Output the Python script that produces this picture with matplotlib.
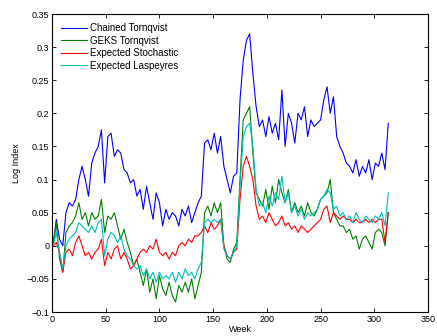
import matplotlib
matplotlib.use("Agg")
import matplotlib.pyplot as plt
from matplotlib.ticker import FuncFormatter

plt.rcParams['font.family'] = ['Liberation Sans', 'DejaVu Sans']

weeks = list(range(1, 314, 3))

chained_tornqvist = [
    0.0, 0.04, 0.01, 0.0, 0.05, 0.065, 0.06, 0.07, 0.1, 0.12,
    0.1, 0.075, 0.125, 0.14, 0.15, 0.175, 0.095, 0.165, 0.17, 0.135,
    0.145, 0.14, 0.115, 0.11, 0.095, 0.1, 0.075, 0.085, 0.055, 0.09,
    0.065, 0.04, 0.08, 0.065, 0.03, 0.055, 0.04, 0.05, 0.045, 0.03,
    0.055, 0.045, 0.06, 0.035, 0.05, 0.065, 0.075, 0.155, 0.16, 0.145,
    0.17, 0.14, 0.165, 0.12, 0.1, 0.08, 0.105, 0.11, 0.22, 0.28,
    0.31, 0.32, 0.26, 0.21, 0.18, 0.19, 0.165, 0.195, 0.17, 0.185,
    0.16, 0.235, 0.15, 0.2, 0.185, 0.155, 0.2, 0.19, 0.21, 0.165,
    0.19, 0.18, 0.185, 0.19, 0.22, 0.24, 0.2, 0.225, 0.165, 0.15,
    0.14, 0.125, 0.12, 0.11, 0.13, 0.105, 0.12, 0.11, 0.13, 0.1,
    0.125, 0.12, 0.14, 0.115, 0.185,
]

geks_tornqvist = [
    0.0, 0.035, -0.02, -0.04, 0.02, 0.03, 0.035, 0.045, 0.065, 0.04,
    0.05, 0.03, 0.05, 0.04, 0.045, 0.07, 0.02, 0.045, 0.04, 0.05,
    0.03, 0.01, 0.025, 0.005, -0.01, -0.03, -0.02, -0.04, -0.06, -0.035,
    -0.07, -0.05, -0.08, -0.045, -0.065, -0.075, -0.055, -0.075, -0.085, -0.06,
    -0.07, -0.055, -0.07, -0.05, -0.08, -0.06, -0.04, 0.05, 0.06, 0.045,
    0.065, 0.05, 0.065, 0.0, -0.02, -0.025, -0.005, 0.005, 0.1, 0.19,
    0.2, 0.21, 0.14, 0.08, 0.07, 0.06, 0.085, 0.055, 0.09, 0.065,
    0.1, 0.08, 0.065, 0.085, 0.05, 0.065, 0.05, 0.06, 0.045, 0.065,
    0.05, 0.045, 0.055, 0.07, 0.075, 0.08, 0.1, 0.05, 0.04, 0.03,
    0.03, 0.02, 0.025, 0.01, 0.015, -0.005, 0.01, 0.015, 0.005, -0.005,
    0.02, 0.025, 0.02, 0.0, 0.05,
]

expected_stochastic = [
    0.0, 0.005, -0.01, -0.04, -0.01, -0.005, -0.015, 0.005, 0.015, 0.0,
    -0.015, -0.01, -0.02, -0.01, -0.005, 0.01, -0.03, -0.01, -0.02, -0.005,
    0.0, -0.02, -0.01, -0.02, -0.035, -0.03, -0.02, -0.01, -0.005, -0.01,
    0.0, -0.005, 0.01, -0.01, -0.015, -0.01, -0.02, -0.01, -0.015, 0.0,
    0.005, 0.0, 0.01, 0.005, 0.015, 0.015, 0.02, 0.03, 0.02, 0.035,
    0.025, 0.03, 0.04, 0.0, -0.015, -0.02, -0.01, -0.005, 0.07, 0.12,
    0.135, 0.12, 0.1, 0.06, 0.04, 0.045, 0.035, 0.05, 0.04, 0.03,
    0.035, 0.045, 0.03, 0.035, 0.025, 0.03, 0.02, 0.03, 0.025, 0.02,
    0.025, 0.03, 0.035, 0.04, 0.055, 0.06, 0.035, 0.05, 0.045, 0.04,
    0.045, 0.04, 0.04, 0.035, 0.04, 0.035, 0.035, 0.04, 0.035, 0.04,
    0.035, 0.04, 0.04, 0.005, 0.05,
]

expected_laspeyres = [
    0.0, 0.02, -0.01, -0.035, 0.0, 0.01, 0.015, 0.02, 0.035, 0.03,
    0.025, 0.02, 0.03, 0.02, 0.035, 0.04, -0.015, 0.01, 0.02, 0.015,
    0.005, 0.015, -0.005, -0.015, -0.02, -0.03, -0.035, -0.03, -0.045, -0.035,
    -0.05, -0.04, -0.055, -0.04, -0.05, -0.045, -0.05, -0.04, -0.055, -0.04,
    -0.05, -0.035, -0.045, -0.04, -0.05, -0.035, -0.025, 0.035, 0.04, 0.035,
    0.04, 0.035, 0.04, -0.005, -0.015, -0.02, -0.01, 0.0, 0.09, 0.165,
    0.18, 0.185, 0.15, 0.085, 0.06, 0.065, 0.05, 0.075, 0.06, 0.08,
    0.07, 0.105, 0.065, 0.08, 0.05, 0.06, 0.045, 0.055, 0.04, 0.05,
    0.045, 0.05, 0.055, 0.07, 0.075, 0.085, 0.08, 0.055, 0.06, 0.045,
    0.05, 0.04, 0.045, 0.035, 0.05, 0.04, 0.035, 0.045, 0.04, 0.035,
    0.045, 0.04, 0.05, 0.03, 0.08,
]

series_names = ["Chained Tornqvist", "GEKS Tornqvist", "Expected Stochastic", "Expected Laspeyres"]
x_ticks = [0, 50, 100, 150, 200, 250, 300, 350]
y_ticks = [-0.1, -0.05, 0, 0.05, 0.1, 0.15, 0.2, 0.25, 0.3, 0.35]

fig = plt.figure(figsize=(4.37, 3.36), dpi=100)
ax = fig.add_axes([52/437, 24/336, 376/437, 298/336])

colors = ['#0000ff', '#008000', '#ff0000', '#00bfbf']
data = [chained_tornqvist, geks_tornqvist, expected_stochastic, expected_laspeyres]
for name, vals, c in zip(series_names, data, colors):
    ax.plot(weeks, vals, color=c, lw=0.8, label=name)

ax.set_xlim(0, 350)
ax.set_ylim(-0.1, 0.35)
ax.set_xticks(x_ticks)
ax.set_yticks(y_ticks)
ax.yaxis.set_major_formatter(FuncFormatter(lambda v, p: ('%g' % round(v, 2)).replace('-', '\u2212')))
ax.tick_params(direction='in', top=True, right=True, labelsize=6.5, length=3, width=0.6, pad=2)
for s in ax.spines.values():
    s.set_linewidth(0.8)

ax.set_xlabel('Week', fontsize=6.5, labelpad=1)
ax.set_ylabel('Log Index', fontsize=6.5, labelpad=4)

leg = ax.legend(loc='upper left', fontsize=7, frameon=False, handlelength=2.7,
                handletextpad=0.25, labelspacing=0.25, borderaxespad=0.55)

fig.savefig('out.png', dpi=100)
